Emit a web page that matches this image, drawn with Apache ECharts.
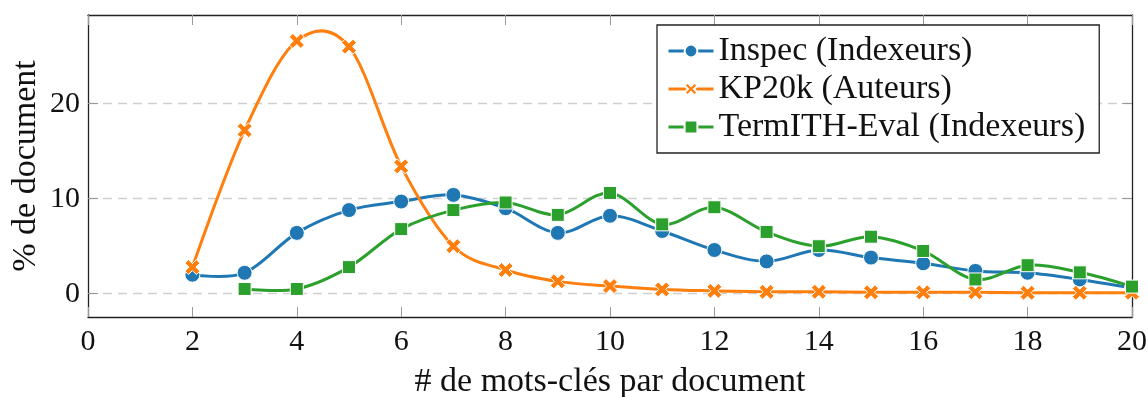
<!DOCTYPE html>
<html>
<head>
<meta charset="utf-8">
<script src="https://cdn.jsdelivr.net/npm/echarts@6/dist/echarts.min.js"></script>
<style>
  html, body { margin: 0; padding: 0; background: #fff; }
  #chart { width: 1148px; height: 397px; }
</style>
</head>
<body>
<div id="chart"></div>
<script>
// Number of keywords per document
const inspecX = [2, 3, 4, 5, 6, 7, 8, 9, 10, 11, 12, 13, 14, 15, 16, 17, 18, 19, 20];
const inspecY = [2.0, 2.2, 6.4, 8.8, 9.7, 10.4, 9.0, 6.4, 8.2, 6.6, 4.6, 3.4, 4.6, 3.8, 3.2, 2.4, 2.2, 1.5, 0.6];

const kp20kX = [2, 3, 4, 5, 6, 7, 8, 9, 10, 11, 12, 13, 14, 15, 16, 17, 18, 19, 20];
const kp20kY = [2.8, 17.2, 26.6, 26.0, 13.4, 5.0, 2.5, 1.3, 0.8, 0.45, 0.3, 0.2, 0.2, 0.15, 0.15, 0.15, 0.1, 0.1, 0.1];

const termithX = [3, 4, 5, 6, 7, 8, 9, 10, 11, 12, 13, 14, 15, 16, 17, 18, 19, 20];
const termithY = [0.5, 0.5, 2.8, 6.8, 8.8, 9.6, 8.3, 10.6, 7.3, 9.1, 6.5, 5.0, 6.0, 4.5, 1.5, 3.0, 2.25, 0.75];

const seriesNames = ['Inspec (Indexeurs)', 'KP20k (Auteurs)', 'TermITH-Eval (Indexeurs)'];
const xTicks = [0, 2, 4, 6, 8, 10, 12, 14, 16, 18, 20];
const yTicks = [0, 10, 20];

const FONT = 'Liberation Serif';
const COLORS = ['#1f77b4', '#ff7f0e', '#2ca02c'];
const CROSS = 'path://M0,2.8 L2.8,0 L6,3.2 L9.2,0 L12,2.8 L8.8,6 L12,9.2 L9.2,12 L6,8.8 L2.8,12 L0,9.2 L3.2,6 Z';

// Cardinal spline through pixel points (Catmull-Rom style smoothing)
function smoothPath(pts, t) {
  let d = 'M' + pts[0][0] + ',' + pts[0][1];
  const n = pts.length;
  for (let i = 0; i < n - 1; i++) {
    const p0 = pts[i], p1 = pts[i + 1];
    const pa = i > 0 ? pts[i - 1] : null;
    const pb = i < n - 2 ? pts[i + 2] : null;
    const c1 = pa ? [p0[0] + t * (p1[0] - pa[0]), p0[1] + t * (p1[1] - pa[1])] : p0;
    const c2 = pb ? [p1[0] - t * (pb[0] - p0[0]), p1[1] - t * (pb[1] - p0[1])] : p1;
    d += ' C' + c1[0] + ',' + c1[1] + ' ' + c2[0] + ',' + c2[1] + ' ' + p1[0] + ',' + p1[1];
  }
  return d;
}

function curveSeries(xs, ys, color) {
  return {
    type: 'custom',
    coordinateSystem: 'cartesian2d',
    silent: true,
    z: 2,
    data: [[xs[0], ys[0]]],
    renderItem: function (params, api) {
      if (params.dataIndexInside !== 0) return;
      const pts = xs.map((x, i) => api.coord([x, ys[i]]));
      return {
        type: 'path',
        shape: { pathData: smoothPath(pts, 1 / 6) },
        style: { fill: 'none', stroke: color, lineWidth: 3, lineJoin: 'round', lineCap: 'round' }
      };
    }
  };
}

function markerSeries(name, xs, ys, color, symbol, size) {
  return {
    type: 'line',
    name: name,
    data: xs.map((x, i) => [x, ys[i]]),
    symbol: symbol,
    symbolSize: size,
    showSymbol: true,
    z: 3,
    silent: true,
    lineStyle: { color: color, width: 3, opacity: 0 },
    itemStyle: { color: color, borderColor: '#fff', borderWidth: 1, opacity: 1 },
    emphasis: { disabled: true }
  };
}

const axisLineStyle = { color: '#222', width: 1.3 };
const tickStyle = { color: '#999', width: 1 };

const chart = echarts.init(document.getElementById('chart'), null, { renderer: 'canvas' });
chart.setOption({
  animation: false,
  backgroundColor: '#fff',
  textStyle: { fontFamily: FONT },
  grid: { left: 88, right: 16, top: 15, bottom: 80, containLabel: false, outerBoundsMode: 'none' },
  legend: {
    orient: 'vertical',
    left: 657,
    top: 25,
    data: seriesNames,
    itemWidth: 45,
    itemHeight: 16,
    itemGap: 0,
    padding: [7, 14, 7, 10],
    backgroundColor: '#fff',
    borderColor: '#222',
    borderWidth: 1.3,
    borderRadius: 0,
    selectedMode: false,
    lineStyle: { width: 3, opacity: 1 },
    textStyle: { fontFamily: FONT, fontSize: 34, color: '#111', lineHeight: 38 }
  },
  xAxis: [
    {
      type: 'value', position: 'bottom', min: 0, max: 20, interval: 2,
      name: '# de mots-clés par document', nameLocation: 'middle', nameGap: 48,
      nameTextStyle: { fontFamily: FONT, fontSize: 34, color: '#111' },
      axisLine: { show: true, onZero: false, lineStyle: axisLineStyle },
      axisTick: { show: true, inside: true, length: 10, lineStyle: tickStyle, customValues: xTicks },
      axisLabel: { fontFamily: FONT, fontSize: 30, color: '#111', margin: 10, customValues: xTicks },
      splitLine: { show: false }
    },
    {
      type: 'value', position: 'top', min: 0, max: 20, interval: 2,
      axisLine: { show: true, onZero: false, lineStyle: axisLineStyle },
      axisTick: { show: true, inside: true, length: 10, lineStyle: tickStyle, customValues: xTicks },
      axisLabel: { show: false },
      splitLine: { show: false }
    }
  ],
  yAxis: [
    {
      type: 'value', position: 'left', min: -2.45, max: 29.33,
      name: '% de document', nameLocation: 'middle', nameGap: 45, nameMoveOverlap: false,
      nameTextStyle: { fontFamily: FONT, fontSize: 34, color: '#111' },
      axisLine: { show: true, onZero: false, lineStyle: axisLineStyle },
      axisTick: { show: true, inside: true, length: 10, lineStyle: tickStyle, customValues: yTicks },
      axisLabel: { fontFamily: FONT, fontSize: 30, color: '#111', margin: 8, customValues: yTicks },
      splitLine: { show: true, lineStyle: { color: '#cfcfcf', width: 1.3, type: [9, 6] } }
    },
    {
      type: 'value', position: 'right', min: -2.45, max: 29.33,
      axisLine: { show: true, onZero: false, lineStyle: axisLineStyle },
      axisTick: { show: true, inside: true, length: 10, lineStyle: tickStyle, customValues: yTicks },
      axisLabel: { show: false },
      splitLine: { show: false }
    }
  ],
  series: [
    curveSeries(inspecX, inspecY, COLORS[0]),
    curveSeries(kp20kX, kp20kY, COLORS[1]),
    curveSeries(termithX, termithY, COLORS[2]),
    markerSeries(seriesNames[0], inspecX, inspecY, COLORS[0], 'circle', 15),
    markerSeries(seriesNames[1], kp20kX, kp20kY, COLORS[1], CROSS, 15),
    markerSeries(seriesNames[2], termithX, termithY, COLORS[2], 'rect', 13)
  ]
});
</script>
</body>
</html>
